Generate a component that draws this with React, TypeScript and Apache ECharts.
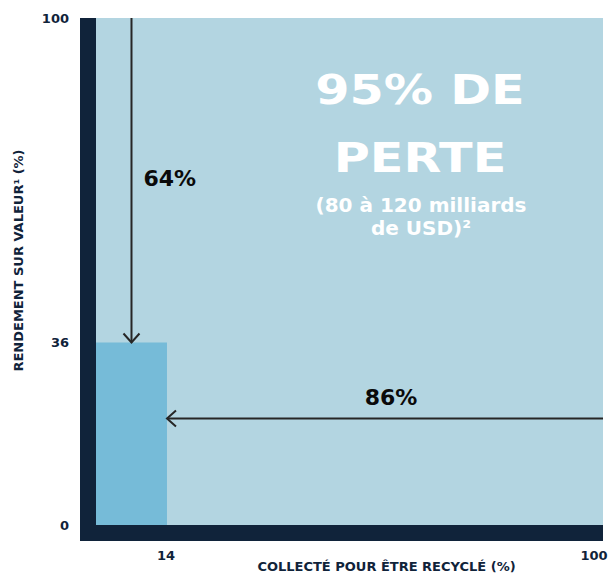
import React, { useEffect, useRef } from "react";
import * as echarts from "echarts";

// Tick values shown on the axes
const xTicks = [14, 100];
const yTicks = [0, 36, 100];
// Recycled plastic: [x start %, x end % (collected), yield %]
const barSegments = [[0, 14, 36]];
// Arrows: [x1, y1, x2, y2] in data units
const arrows = [
  [7, 100, 7, 36],
  [100, 21, 14, 21],
];
const arrowLabels = ["64%", "86%"];
const titleLines = ["95% DE", "PERTE"];
const subtitleLines = ["(80 à 120 milliards", "de USD)²"];
const xName = "COLLECTÉ POUR ÊTRE RECYCLÉ (%)";
const yName = "RENDEMENT SUR VALEUR¹ (%)";

const NAVY = "#10233a";
const LIGHT = "#b3d5e1";
const BAR = "#76bbd8";
const INK = "#0a0a0a";
const FONT = "DejaVu Sans";

const tickStyle = {
  color: NAVY,
  fontFamily: FONT,
  fontWeight: "bold",
  fontSize: 13,
};

export default function App() {
  const ref = useRef<HTMLDivElement>(null);
  useEffect(() => {
    const chart = echarts.init(ref.current!, null, { renderer: "svg" });
    chart.setOption({
      animation: false,
      backgroundColor: "#ffffff",
      grid: {
        left: 96,
        right: 6,
        top: 18,
        bottom: 48,
        show: true,
        backgroundColor: LIGHT,
        borderWidth: 0,
        containLabel: false,
        outerBoundsMode: "none",
      },
      xAxis: {
        type: "value",
        min: 0,
        max: 100,
        axisLine: { show: false },
        axisTick: { show: false },
        splitLine: { show: false },
        axisLabel: {
          customValues: xTicks,
          margin: 24,
          ...tickStyle,
          formatter: (v: number) => (v === 100 ? `{e|${v}}` : `{m|${v}}`),
          rich: {
            m: { ...tickStyle, padding: [0, 2, 0, 0] },
            e: { ...tickStyle, padding: [0, 18, 0, 0] },
          },
        },
        name: xName,
        nameLocation: "middle",
        nameGap: 35,
        nameMoveOverlap: false,
        nameTextStyle: {
          color: NAVY,
          fontFamily: FONT,
          fontWeight: "bold",
          fontSize: 13,
          padding: [0, 0, 0, 74],
        },
      },
      yAxis: {
        type: "value",
        min: 0,
        max: 100,
        axisLine: { show: false },
        axisTick: { show: false },
        splitLine: { show: false },
        axisLabel: {
          customValues: yTicks,
          margin: 27,
          ...tickStyle,
        },
        name: yName,
        nameLocation: "middle",
        nameRotate: 90,
        nameGap: 71,
        nameMoveOverlap: false,
        nameTextStyle: {
          color: NAVY,
          fontFamily: FONT,
          fontWeight: "bold",
          fontSize: 13,
          padding: [0, 0, 0, 22],
        },
      },
      graphic: [
        {
          type: "text",
          x: 420,
          y: 90,
          scaleX: 1.23,
          style: {
            text: titleLines[0],
            x: 0,
            y: 0,
            align: "center",
            verticalAlign: "middle",
            fill: "#ffffff",
            fontFamily: FONT,
            fontWeight: "bold",
            fontSize: 40,
          },
        },
        {
          type: "text",
          x: 420,
          y: 158,
          scaleX: 1.23,
          style: {
            text: titleLines[1],
            x: 0,
            y: 0,
            align: "center",
            verticalAlign: "middle",
            fill: "#ffffff",
            fontFamily: FONT,
            fontWeight: "bold",
            fontSize: 40,
          },
        },
        {
          type: "text",
          x: 421,
          y: 205,
          style: {
            text: subtitleLines[0],
            x: 0,
            y: 0,
            align: "center",
            verticalAlign: "middle",
            fill: "#ffffff",
            fontFamily: FONT,
            fontWeight: "bold",
            fontSize: 20,
          },
        },
        {
          type: "text",
          x: 421,
          y: 228,
          style: {
            text: subtitleLines[1],
            x: 0,
            y: 0,
            align: "center",
            verticalAlign: "middle",
            fill: "#ffffff",
            fontFamily: FONT,
            fontWeight: "bold",
            fontSize: 20,
          },
        },
      ],
      series: [
        {
          type: "custom",
          name: "frame",
          clip: false,
          silent: true,
          data: [[0, 0, 100, 100]],
          encode: { x: [0, 2], y: [1, 3] },
          renderItem: (params: any, api: any) => {
            const p0 = api.coord([api.value(0), api.value(1)]);
            const p1 = api.coord([api.value(2), api.value(3)]);
            const band = 16;
            return {
              type: "group",
              children: [
                {
                  type: "rect",
                  shape: { x: p0[0] - band, y: p1[1], width: band, height: p0[1] - p1[1] + band },
                  style: { fill: NAVY },
                },
                {
                  type: "rect",
                  shape: { x: p0[0], y: p0[1], width: p1[0] - p0[0], height: band },
                  style: { fill: NAVY },
                },
              ],
            };
          },
        },
        {
          type: "custom",
          name: "recycled",
          data: barSegments,
          encode: { x: [0, 1], y: 2 },
          renderItem: (params: any, api: any) => {
            const a = api.coord([api.value(0), api.value(2)]);
            const b = api.coord([api.value(1), 0]);
            return {
              type: "rect",
              shape: { x: a[0], y: a[1], width: b[0] - a[0], height: b[1] - a[1] },
              style: { fill: BAR },
            };
          },
        },
        {
          type: "custom",
          name: "arrows",
          clip: false,
          data: arrows,
          encode: { x: [0, 2], y: [1, 3] },
          renderItem: (params: any, api: any) => {
            const a = api.coord([api.value(0), api.value(1)]);
            const b = api.coord([api.value(2), api.value(3)]);
            const dx = b[0] - a[0];
            const dy = b[1] - a[1];
            const len = Math.hypot(dx, dy) || 1;
            const ux = dx / len;
            const uy = dy / len;
            const px = -uy;
            const py = ux;
            const hl = 9;
            const hw = 8;
            const stroke = { stroke: "#262626", lineWidth: 2, fill: "none" };
            const vertical = Math.abs(dy) > Math.abs(dx);
            const label = arrowLabels[params.dataIndex];
            const textEl = vertical
              ? {
                  type: "text",
                  style: {
                    text: label,
                    x: a[0] + 12,
                    y: (a[1] + b[1]) / 2 - 2,
                    align: "left",
                    verticalAlign: "middle",
                    fill: INK,
                    fontFamily: FONT,
                    fontWeight: "bold",
                    fontSize: 22,
                  },
                }
              : {
                  type: "text",
                  style: {
                    text: label,
                    x: (a[0] + b[0]) / 2 + 6,
                    y: a[1] - 21,
                    align: "center",
                    verticalAlign: "middle",
                    fill: INK,
                    fontFamily: FONT,
                    fontWeight: "bold",
                    fontSize: 22,
                  },
                };
            return {
              type: "group",
              children: [
                {
                  type: "line",
                  shape: { x1: a[0], y1: a[1], x2: b[0], y2: b[1] },
                  style: stroke,
                },
                {
                  type: "polyline",
                  shape: {
                    points: [
                      [b[0] - ux * hl + px * hw, b[1] - uy * hl + py * hw],
                      [b[0], b[1]],
                      [b[0] - ux * hl - px * hw, b[1] - uy * hl - py * hw],
                    ],
                  },
                  style: stroke,
                },
                textEl,
              ],
            };
          },
        },
      ],
    });
    return () => chart.dispose();
  }, []);
  return (
    <div
      ref={ref}
      style={{ position: "fixed", left: 0, top: 0, width: 609, height: 573 }}
    />
  );
}
